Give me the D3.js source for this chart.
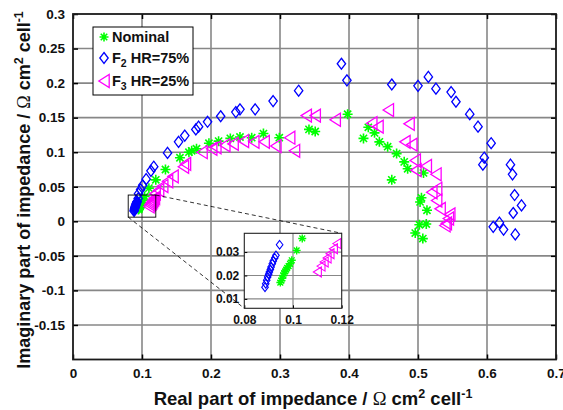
<!DOCTYPE html>
<html><head><meta charset="utf-8">
<script src="https://cdn.jsdelivr.net/npm/d3@7"></script>
<style>
html,body{margin:0;padding:0;background:#fff;}
svg{display:block;font-family:"Liberation Sans",Arial,Helvetica,sans-serif;}
</style></head>
<body><svg id="c" width="563" height="410"></svg>
<script>
// ---- data ----
const xTicks = [0, 0.1, 0.2, 0.3, 0.4, 0.5, 0.6, 0.7];
const yTicks = [-0.15, -0.1, -0.05, 0, 0.05, 0.1, 0.15, 0.2, 0.25, 0.3];
const xTickLabels = ["0", "0.1", "0.2", "0.3", "0.4", "0.5", "0.6", "0.7"];
const yTickLabels = ["-0.15", "-0.1", "-0.05", "0", "0.05", "0.1", "0.15", "0.2", "0.25", "0.3"];
const insetXTicks = [0.08, 0.1, 0.12];
const insetYTicks = [0.01, 0.02, 0.03];
const seriesNames = ["Nominal", "F2 HR=75%", "F3 HR=25%"];

const nominal = [
  [0.0948,0.0170],[0.0952,0.0178],[0.0956,0.0188],[0.0960,0.0200],[0.0964,0.0210],[0.0968,0.0218],
  [0.0972,0.0225],[0.0976,0.0232],[0.0982,0.0240],[0.0988,0.0250],[0.0995,0.0265],[0.1015,0.0307],
  [0.1038,0.0358],[0.110,0.048],[0.120,0.060],[0.134,0.075],[0.155,0.092],[0.168,0.100],[0.172,0.102],
  [0.179,0.105],[0.197,0.113],[0.211,0.116],[0.228,0.120],[0.242,0.122],[0.259,0.121],[0.276,0.127],
  [0.299,0.121],[0.342,0.133],[0.351,0.130],[0.398,0.155],[0.428,0.136],[0.421,0.120],[0.437,0.128],
  [0.444,0.115],[0.456,0.108],[0.469,0.098],[0.480,0.086],[0.485,0.076],[0.508,0.070],[0.462,0.060],
  [0.505,0.034],[0.503,0.028],[0.513,0.016],[0.502,-0.005],[0.512,-0.004],[0.496,-0.017],[0.507,-0.025]
];
const f2 = [
  [0.0885,0.0150],[0.0888,0.0165],[0.0892,0.0180],[0.0896,0.0194],[0.0900,0.0205],[0.0903,0.0215],
  [0.0907,0.0226],[0.0910,0.0236],[0.0915,0.0250],[0.0919,0.0262],[0.0925,0.0275],[0.0930,0.0286],
  [0.0945,0.0331],[0.095,0.040],[0.098,0.046],[0.101,0.052],[0.106,0.061],[0.113,0.073],[0.117,0.079],
  [0.137,0.099],[0.153,0.115],[0.162,0.124],[0.178,0.133],[0.182,0.137],[0.195,0.144],[0.214,0.152],
  [0.236,0.158],[0.242,0.162],[0.264,0.162],[0.290,0.174],[0.327,0.189],[0.389,0.228],[0.397,0.204],
  [0.462,0.198],[0.500,0.196],[0.515,0.209],[0.526,0.192],[0.548,0.187],[0.555,0.173],[0.575,0.155],
  [0.587,0.137],[0.606,0.113],[0.596,0.092],[0.594,0.082],[0.634,0.082],[0.637,0.068],[0.640,0.038],
  [0.650,0.023],[0.638,0.012],[0.609,-0.008],[0.618,-0.002],[0.624,-0.012],[0.641,-0.019]
];
const f3 = [
  [0.1100,0.0215],[0.1115,0.0240],[0.1128,0.0258],[0.1140,0.0275],[0.1152,0.0293],[0.1166,0.0314],
  [0.1180,0.0336],[0.119,0.040],[0.124,0.045],[0.130,0.051],[0.137,0.058],[0.145,0.065],[0.160,0.079],
  [0.163,0.083],[0.187,0.100],[0.201,0.105],[0.207,0.107],[0.220,0.110],[0.232,0.112],[0.247,0.116],
  [0.262,0.115],[0.277,0.115],[0.294,0.109],[0.314,0.121],[0.321,0.102],[0.338,0.153],[0.351,0.153],
  [0.380,0.147],[0.433,0.142],[0.442,0.137],[0.457,0.161],[0.487,0.141],[0.481,0.115],[0.491,0.111],
  [0.496,0.088],[0.512,0.080],[0.497,0.074],[0.526,0.068],[0.527,0.047],[0.520,0.042],[0.527,0.030],
  [0.532,0.018],[0.546,0.010],[0.544,0.004],[0.541,-0.003],[0.539,-0.006]
];

// ---- layout ----
const svg = d3.select("#c");
const M = {l:73, r:556, t:14, b:359.5};
const x = d3.scaleLinear().domain([0,0.7]).range([M.l,M.r]);
const y = d3.scaleLinear().domain([-0.2,0.3]).range([M.b,M.t]);
const gridCol = "#878787";
const colors = {nom:"#00ff00", f2:"#0000ff", f3:"#ff00ff"};

function starPath(r){const d=r*0.72;return `M${-r},0L${r},0M0,${-r}L0,${r}M${-d},${-d}L${d},${d}M${-d},${d}L${d},${-d}`;}
function diamondPath(w,h){return `M0,${-h}L${w},0L0,${h}L${-w},0Z`;}
function triPath(w,h){return `M${-w},0L${w},${-h}L${w},${h}Z`;}

// grid
const g = svg.append("g");
g.selectAll(".gx").data(xTicks.slice(1,-1)).join("line")
  .attr("x1",d=>x(d)).attr("x2",d=>x(d)).attr("y1",M.t).attr("y2",M.b)
  .attr("stroke",gridCol).attr("stroke-width",1.6);
g.selectAll(".gy").data(yTicks.filter(v=>v<0.3)).join("line")
  .attr("y1",d=>y(d)).attr("y2",d=>y(d)).attr("x1",M.l).attr("x2",M.r)
  .attr("stroke",gridCol).attr("stroke-width",1.6);

// axes via d3
const xAxB = d3.axisBottom(x).tickValues(xTicks).tickSize(-5).tickFormat((d,i)=>xTickLabels[i]).tickPadding(9);
const yAxL = d3.axisLeft(y).tickValues(yTicks).tickSize(-5).tickFormat((d,i)=>yTickLabels[i]).tickPadding(8);
const xAxT = d3.axisTop(x).tickValues(xTicks).tickSize(-5).tickFormat("");
const yAxR = d3.axisRight(y).tickValues(yTicks).tickSize(-5).tickFormat("");
function styleAxis(sel){
  sel.select(".domain").remove();
  sel.selectAll(".tick line").attr("stroke","#000").attr("stroke-width",1.5);
  sel.selectAll(".tick text").attr("fill","#111").attr("font-size","13.5px").attr("font-weight","bold");
}
svg.append("g").attr("transform",`translate(0,${M.b})`).call(xAxB).call(styleAxis);
svg.append("g").attr("transform",`translate(${M.l},0)`).call(yAxL).call(styleAxis);
svg.append("g").attr("transform",`translate(0,${M.t})`).call(xAxT).call(styleAxis);
svg.append("g").attr("transform",`translate(${M.r},0)`).call(yAxR).call(styleAxis);
svg.selectAll(".tick text").attr("font-family","'Liberation Sans',Arial,sans-serif");

// data markers main
const clipId="clipMain";
svg.append("clipPath").attr("id",clipId).append("rect").attr("x",M.l).attr("y",M.t).attr("width",M.r-M.l).attr("height",M.b-M.t);
const pg = svg.append("g").attr("clip-path",`url(#${clipId})`);
function drawSeries(parent, data, sx, sy, path, col, sw){
  parent.append("g").selectAll("path").data(data).join("path")
    .attr("transform",d=>`translate(${sx(d[0])},${sy(d[1])})`)
    .attr("d",path).attr("fill","none").attr("stroke",col).attr("stroke-width",sw);
}
drawSeries(pg, nominal, x, y, starPath(5), colors.nom, 1.6);
drawSeries(pg, f2, x, y, diamondPath(4.2,5.5), colors.f2, 1.3);
drawSeries(pg, f3, x, y, triPath(5.2,6.5), colors.f3, 1.3);

// frame
svg.append("rect").attr("x",M.l).attr("y",M.t).attr("width",M.r-M.l).attr("height",M.b-M.t)
  .attr("fill","none").attr("stroke","#1a1a1a").attr("stroke-width",1.8);

// inset
const I = {l:244.3, r:341.7, t:233.3, b:308.3};
const xi = d3.scaleLinear().domain([0.08,0.12]).range([I.l,I.r]);
const yi = d3.scaleLinear().domain([0.006,0.038]).range([I.b,I.t]);

// zoom rectangle & connectors
svg.append("rect").attr("x",x(0.08)).attr("y",y(0.038)).attr("width",x(0.12)-x(0.08)).attr("height",y(0.006)-y(0.038))
  .attr("fill","none").attr("stroke","#000").attr("stroke-width",0.9);
svg.append("line").attr("x1",x(0.12)).attr("y1",y(0.038)).attr("x2",I.r).attr("y2",I.t)
  .attr("stroke","#000").attr("stroke-width",0.8).attr("stroke-dasharray","4,3");
svg.append("line").attr("x1",x(0.08)).attr("y1",y(0.006)).attr("x2",I.l).attr("y2",I.b)
  .attr("stroke","#000").attr("stroke-width",0.8).attr("stroke-dasharray","4,3");

svg.append("rect").attr("x",I.l).attr("y",I.t).attr("width",I.r-I.l).attr("height",I.b-I.t).attr("fill","#fff");
svg.append("g").selectAll("line").data([0.1]).join("line")
  .attr("x1",d=>xi(d)).attr("x2",d=>xi(d)).attr("y1",I.t).attr("y2",I.b).attr("stroke",gridCol).attr("stroke-width",1.2);
svg.append("g").selectAll("line").data(insetYTicks).join("line")
  .attr("y1",d=>yi(d)).attr("y2",d=>yi(d)).attr("x1",I.l).attr("x2",I.r).attr("stroke",gridCol).attr("stroke-width",1.2);

const xiAx = d3.axisBottom(xi).tickValues(insetXTicks).tickSize(-3).tickFormat(d=>d===0.1?"0.1":d3.format(".2f")(d)).tickPadding(7);
const yiAx = d3.axisLeft(yi).tickValues(insetYTicks).tickSize(-3).tickFormat(d3.format(".2f")).tickPadding(5);
function styleInset(sel){
  sel.select(".domain").remove();
  sel.selectAll(".tick line").attr("stroke","#000").attr("stroke-width",1);
  sel.selectAll(".tick text").attr("fill","#111").attr("font-size","12px").attr("font-weight","bold")
    .attr("font-family","'Liberation Sans',Arial,sans-serif");
}
svg.append("g").attr("transform",`translate(0,${I.b})`).call(xiAx).call(styleInset);
svg.append("g").attr("transform",`translate(${I.l},0)`).call(yiAx).call(styleInset);

svg.append("clipPath").attr("id","clipInset").append("rect").attr("x",I.l).attr("y",I.t).attr("width",I.r-I.l).attr("height",I.b-I.t);
const ig = svg.append("g").attr("clip-path","url(#clipInset)");
const inDom = d=>d[0]>=0.079&&d[0]<=0.121&&d[1]>=0.005&&d[1]<=0.039;
drawSeries(ig, nominal.filter(inDom), xi, yi, starPath(4), colors.nom, 1.4);
drawSeries(ig, f2.filter(inDom), xi, yi, diamondPath(3.3,4.3), colors.f2, 1.1);
drawSeries(ig, f3.filter(inDom), xi, yi, triPath(4,5), colors.f3, 1.1);
svg.append("rect").attr("x",I.l).attr("y",I.t).attr("width",I.r-I.l).attr("height",I.b-I.t)
  .attr("fill","none").attr("stroke","#222").attr("stroke-width",1.1);

// legend
const L = {x:93, y:27, w:100, h:68};
const lg = svg.append("g");
lg.append("rect").attr("x",L.x).attr("y",L.y).attr("width",L.w).attr("height",L.h)
  .attr("fill","#fff").attr("stroke","#000").attr("stroke-width",1);
const legRows = [
  {cy:37, path:starPath(4.5), col:colors.nom, sw:1.6, main:"Nominal", sub:null, rest:null},
  {cy:58, path:diamondPath(4.2,5.5), col:colors.f2, sw:1.3, main:"F", sub:"2", rest:" HR=75%"},
  {cy:81, path:triPath(5.2,6.5), col:colors.f3, sw:1.3, main:"F", sub:"3", rest:" HR=25%"}
];
legRows.forEach((r,i)=>{
  lg.append("path").attr("transform",`translate(104,${r.cy})`).attr("d",r.path)
    .attr("fill","none").attr("stroke",r.col).attr("stroke-width",r.sw);
  const t = lg.append("text").attr("x",112).attr("y",r.cy+5).attr("font-size","14.5px").attr("font-weight","bold").attr("fill","#111");
  t.append("tspan").text(r.main);
  if(r.sub){
    t.append("tspan").attr("dy",4).attr("font-size","10.5px").text(r.sub);
    t.append("tspan").attr("dy",-4).text(r.rest);
  }
});

// axis titles
const xt = svg.append("text").attr("x",313).attr("y",405).attr("text-anchor","middle")
  .attr("font-size","18.5px").attr("font-weight","bold").attr("fill","#111");
xt.append("tspan").text("Real part of impedance / ");
xt.append("tspan").attr("font-family","'Liberation Serif','Times New Roman',serif").attr("font-weight","normal").text(" Ω");
xt.append("tspan").text(" cm");
xt.append("tspan").attr("dy",-7).attr("font-size","12.5px").text("2");
xt.append("tspan").attr("dy",7).text(" cell");
xt.append("tspan").attr("dy",-7).attr("font-size","12.5px").text("-1");

const yt = svg.append("text").attr("transform","translate(30,190) rotate(-90)").attr("text-anchor","middle")
  .attr("font-size","18px").attr("font-weight","bold").attr("fill","#111");
yt.append("tspan").text("Imaginary part of impedance / ");
yt.append("tspan").attr("font-family","'Liberation Serif','Times New Roman',serif").attr("font-weight","normal").text(" Ω");
yt.append("tspan").text(" cm");
yt.append("tspan").attr("dy",-7).attr("font-size","12.5px").text("2");
yt.append("tspan").attr("dy",7).text(" cell");
yt.append("tspan").attr("dy",-7).attr("font-size","12.5px").text("-1");
</script></body></html>
